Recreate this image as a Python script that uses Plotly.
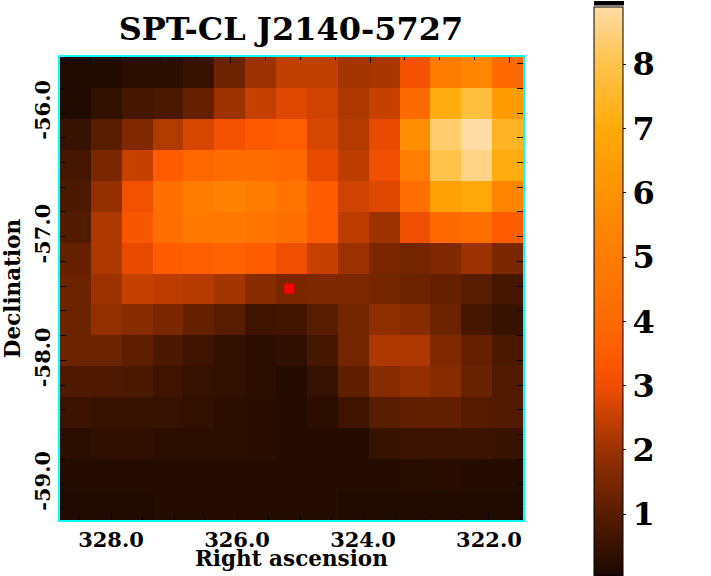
import plotly.graph_objects as go

TITLE = "SPT-CL J2140-5727"
ra_centres = [328.565, 328.075, 327.585, 327.095, 326.605, 326.115, 325.625, 325.135,
              324.645, 324.155, 323.665, 323.175, 322.685, 322.195, 321.705]
dec_centres = [-55.672, -55.922, -56.172, -56.422, -56.672, -56.922, -57.172, -57.422,
               -57.672, -57.922, -58.172, -58.422, -58.672, -58.922, -59.172]
signal = [
    [.15,.15,.3,.3,.5,1.3,2.0,2.45,2.45,2.1,2.15,3.1,5.0,5.5,4.0],
    [.15,.4,.7,.8,1.2,2.0,2.5,2.8,2.6,2.2,2.5,4.0,7.1,7.8,6.4],
    [.5,1.0,1.6,2.25,2.7,3.1,3.4,3.55,2.7,2.3,2.9,5.8,8.35,8.9,7.4],
    [.7,1.5,2.5,3.5,3.9,4.1,4.1,3.95,2.9,2.4,3.0,5.1,8.0,8.6,7.1],
    [.8,1.9,3.1,4.3,5.0,5.3,5.0,4.55,3.5,2.6,2.8,4.2,6.6,6.9,5.4],
    [.9,2.2,3.3,4.2,4.8,4.8,4.6,4.2,3.5,2.4,2.0,3.0,4.0,4.2,3.5],
    [1.2,2.2,2.9,3.5,3.6,3.7,3.5,3.0,2.5,2.0,1.5,1.4,1.6,2.0,1.5],
    [1.3,2.0,2.5,2.4,2.3,2.1,1.7,1.5,1.55,1.55,1.4,1.3,1.2,1.0,.7],
    [1.3,1.9,1.7,1.5,1.2,1.0,.6,.65,1.0,1.4,1.8,1.7,1.3,.7,.5],
    [1.3,1.3,1.1,.8,.6,.4,.3,.35,.7,1.4,2.2,2.2,1.6,1.2,.8],
    [.85,.85,.8,.6,.45,.4,.3,.2,.45,1.1,1.7,1.9,1.7,1.25,.9],
    [.55,.5,.5,.45,.4,.3,.25,.2,.3,.6,1.0,1.15,1.15,.95,.9],
    [.3,.35,.35,.3,.3,.3,.25,.2,.2,.2,.5,.55,.55,.55,.5],
    [.2,.2,.2,.2,.2,.2,.2,.2,.2,.2,.2,.22,.25,.2,.2],
    [.15,.15,.15,.2,.2,.2,.2,.2,.2,.15,.15,.15,.15,.15,.12],
]
cluster_ra = [325.17]
cluster_dec = [-57.42]

ra_major = [328, 326, 324, 322]
ra_labels = ["328.0", "326.0", "324.0", "322.0"]
ra_minor = [328.5, 327.5, 327, 326.5, 325.5, 325, 324.5, 323.5, 323, 322.5, 321.5]
top_minor = [327.5, 327, 326.5, 325.5, 325, 324.5, 323.5, 323, 322.5]
dec_major = [-56, -57, -58, -59]
dec_labels = ["-56.0", "-57.0", "-58.0", "-59.0"]
dec_minor = [-55.6, -55.8, -56.2, -56.4, -56.6, -56.8, -57.2, -57.4, -57.6, -57.8,
             -58.2, -58.4, -58.6, -58.8, -59.2]
cbar_ticks = [1, 2, 3, 4, 5, 6, 7, 8]

cmap_vals = [0.04, 1, 2, 3, 3.5, 4, 5, 6, 7, 8, 8.89]
cmap_cols = ["rgb(26,9,0)", "rgb(88,28,0)", "rgb(155,50,0)", "rgb(240,78,0)", "rgb(255,92,0)",
             "rgb(255,106,0)", "rgb(255,124,0)", "rgb(255,146,0)", "rgb(255,170,8)",
             "rgb(255,195,75)", "rgb(255,220,165)"]
zmin, zmax = cmap_vals[0], cmap_vals[-1]
scale = [[(v - zmin) / (zmax - zmin), c] for v, c in zip(cmap_vals, cmap_cols)]

SERIF = "DejaVu Serif"
W, H = 711, 576
L, R, T, B = 60, 523, 57, 520

fig = go.Figure()
fig.add_trace(go.Heatmap(
    x=ra_centres, y=dec_centres, z=signal, zmin=zmin, zmax=zmax, colorscale=scale,
    hoverinfo="skip",
    colorbar=dict(
        xref="paper", yref="paper", x=(594 - L) / (R - L), xanchor="left",
        y=(B - H) / (B - T), yanchor="bottom",
        thickness=29, thicknessmode="pixels", len=569, lenmode="pixels", xpad=0, ypad=0,
        outlinecolor="black", outlinewidth=1,
        tickmode="array", tickvals=cbar_ticks, ticks="outside", ticklen=3, tickcolor="black",
        tickfont=dict(family=SERIF, size=32, color="black", weight="bold"),
    ),
))
fig.add_trace(go.Scatter(x=cluster_ra, y=cluster_dec, mode="markers",
                         marker=dict(symbol="square", size=10, color="#ff0000"),
                         showlegend=False, hoverinfo="skip"))
fig.add_trace(go.Scatter(x=ra_major, y=dec_major, mode="markers", xaxis="x2",
                         marker=dict(opacity=0), showlegend=False, hoverinfo="skip"))

tick_font = dict(family=SERIF, size=21, color="black", weight="bold")
label_font = dict(family=SERIF, size=21.5, color="black", weight="bold")
fig.update_layout(
    width=W, height=H, autosize=False,
    margin=dict(l=L, r=W - R, t=T, b=H - B, pad=0, autoexpand=False),
    paper_bgcolor="white", plot_bgcolor="white",
    title=dict(text=TITLE, x=291 / W, xanchor="center", y=1 - 29 / H, yanchor="middle",
               font=dict(family=SERIF, size=32, color="black", weight="bold")),
    xaxis=dict(
        range=[328.81, 321.46], showgrid=False, zeroline=False,
        showline=True, linecolor="cyan", linewidth=2, mirror=True,
        tickmode="array", tickvals=ra_major, ticktext=ra_labels, ticks="inside",
        ticklen=6, tickwidth=1, tickcolor="black", tickfont=tick_font,
        minor=dict(tickmode="array", tickvals=ra_minor, ticks="inside", ticklen=3,
                   tickwidth=1, tickcolor="black", showgrid=False),
    ),
    xaxis2=dict(
        range=[328.44, 321.81], overlaying="x", side="top", showgrid=False, zeroline=False,
        showline=False, tickmode="array", tickvals=ra_major, ticks="inside",
        ticklen=6, tickwidth=1, tickcolor="black", showticklabels=False,
        minor=dict(tickmode="array", tickvals=top_minor, ticks="inside", ticklen=3,
                   tickwidth=1, tickcolor="black", showgrid=False),
    ),
    yaxis=dict(
        range=[-59.291, -55.547], showgrid=False, zeroline=False,
        showline=True, linecolor="cyan", linewidth=2, mirror="allticks",
        tickmode="array", tickvals=dec_major, ticktext=dec_labels, ticks="inside",
        ticklen=6, tickwidth=1, tickcolor="black", tickfont=tick_font, tickangle=-90,
        minor=dict(tickmode="array", tickvals=dec_minor, ticks="inside", ticklen=3,
                   tickwidth=1, tickcolor="black", showgrid=False),
        title=dict(text="Declination", font=label_font, standoff=8),
    ),
    annotations=[dict(text="Right ascension", xref="paper", yref="paper",
                      x=(291 - L) / (R - L), y=(B - 558) / (B - T),
                      xanchor="center", yanchor="middle", showarrow=False, font=label_font)],
    shapes=[dict(type="rect", xref="paper", yref="paper",
                 x0=(594 - L) / (R - L), x1=(624 - L) / (R - L),
                 y0=(B - 5.5) / (B - T), y1=(B - 1) / (B - T),
                 fillcolor="black", line=dict(width=0))],
)
fig.write_html("out.html", config={"displayModeBar": False},
               post_script="document.body.style.margin='0';")
